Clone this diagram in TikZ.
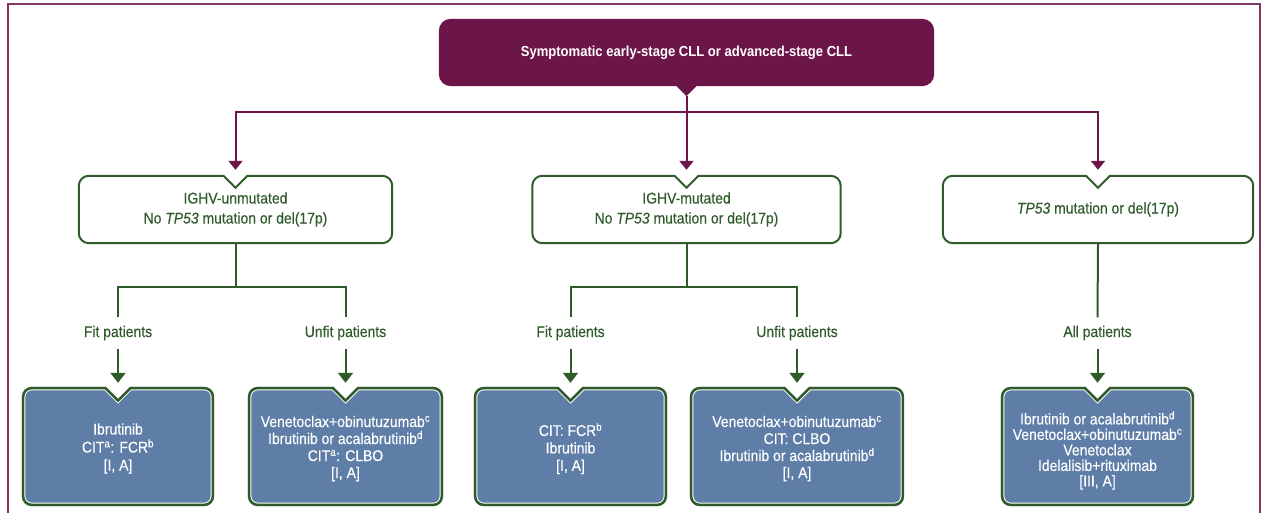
\documentclass[tikz,border=0pt]{standalone}
\usepackage{fontspec}
\setmainfont{Liberation Sans}[FakeStretch=0.9, UprightFeatures={FakeBold=0.3}, ItalicFeatures={FakeBold=0.3}]
\usetikzlibrary{calc,arrows.meta}
\definecolor{cllpurple}{HTML}{6C1548}
\definecolor{dkgreen}{HTML}{2F5B2B}
\definecolor{boxblue}{HTML}{5E7EA8}
\tikzset{
  mtext/.style={inner sep=0pt, align=center, text=dkgreen, font=\fontsize{15.5}{20}\selectfont},
  mbox/.style={mtext, minimum height=67pt},
  bbox/.style={inner sep=0pt, align=center, text=white, minimum height=119pt},
  lab/.style={mtext, minimum height=31pt, minimum width=10pt},
  pline/.style={draw=cllpurple, line width=2pt},
  parrow/.style={pline, -{Triangle[width=14pt,length=9pt]}, shorten >=3pt},
  gline/.style={draw=dkgreen, line width=2pt},
  garrow/.style={gline, -{Triangle[width=15pt,length=10pt]}, shorten >=4pt},
  notched/.style={insert path={
    ($(#1.north west)+(10pt,0pt)$) -- ($(#1.north)+(-12pt,0pt)$) -- ($(#1.north)+(0pt,-12pt)$) -- ($(#1.north)+(12pt,0pt)$)
    -- ($(#1.north east)+(-10pt,0pt)$) arc[start angle=90,end angle=0,radius=10pt]
    -- ($(#1.south east)+(0pt,10pt)$) arc[start angle=0,end angle=-90,radius=10pt]
    -- ($(#1.south west)+(10pt,0pt)$) arc[start angle=270,end angle=180,radius=10pt]
    -- ($(#1.north west)+(0pt,-10pt)$) arc[start angle=180,end angle=90,radius=10pt] -- cycle}},
  topshape/.style={insert path={
    ($(#1.south west)+(0pt,12pt)$) arc[start angle=180,end angle=270,radius=12pt]
    -- ($(#1.south)+(-10pt,0pt)$) -- ($(#1.south)+(0pt,-10pt)$) -- ($(#1.south)+(10pt,0pt)$)
    -- ($(#1.south east)+(-12pt,0pt)$) arc[start angle=270,end angle=360,radius=12pt]
    -- ($(#1.north east)+(0pt,-12pt)$) arc[start angle=0,end angle=90,radius=12pt]
    -- ($(#1.north west)+(12pt,0pt)$) arc[start angle=90,end angle=180,radius=12pt] -- cycle}}
}
\newcommand{\bluebox}[1]{%
  \begin{scope}
    \clip[notched=#1];
    \fill[boxblue][notched=#1];
    \draw[white, line width=7pt][notched=#1];
    \draw[dkgreen, line width=5pt][notched=#1];
  \end{scope}}
\newcommand{\atext}{Ibrutinib\\CIT\textsuperscript{a}: FCR\textsuperscript{b}\\{[I, A]}}
\newcommand{\btext}{Venetoclax+obinutuzumab\textsuperscript{c}\\Ibrutinib or acalabrutinib\textsuperscript{d}\\CIT\textsuperscript{a}: CLBO\\{[I, A]}}
\newcommand{\ctext}{CIT: FCR\textsuperscript{b}\\Ibrutinib\\{[I, A]}}
\newcommand{\dtext}{Venetoclax+obinutuzumab\textsuperscript{c}\\CIT: CLBO\\Ibrutinib or acalabrutinib\textsuperscript{d}\\{[I, A]}}
\newcommand{\etext}{Ibrutinib or acalabrutinib\textsuperscript{d}\\Venetoclax+obinutuzumab\textsuperscript{c}\\Venetoclax\\Idelalisib+rituximab\\{[III, A]}}
\begin{document}
\begin{tikzpicture}[x=1pt,y=1pt]
\useasboundingbox (0,0) rectangle (1268,513);
\fill[white] (0,0) rectangle (1268,513);
% frame
\draw[cllpurple!85, line width=2.5pt] (8,-20) -- (8,509) -- (1260,509) -- (1260,-20);

% top box
\coordinate (topc) at (686.5,460.5);
\path (topc) node[inner sep=0pt, minimum width=495pt, minimum height=67pt] (top) {};
\fill[cllpurple][topshape=top];
\node[inner sep=0pt, text=white, font=\bfseries\fontsize{14.5}{17}\selectfont] (toptext) at (top) {Symptomatic early-stage CLL or advanced-stage CLL};
\coordinate (tapex) at ($(top.south)+(0,-10)$);

% middle boxes
\node[mbox, minimum width=313pt] (m1) at (235.5,303.5) {IGHV-unmutated\\No \textit{TP53} mutation or del(17p)};
\node[mbox, minimum width=308pt] (m2) at (686.5,303.5) {IGHV-mutated\\No \textit{TP53} mutation or del(17p)};
\node[mbox, minimum width=310pt] (m3) at (1098,303.5) {\textit{TP53} mutation or del(17p)};
\foreach \n in {m1,m2,m3}{\draw[dkgreen, line width=2pt][notched=\n];}

% purple connectors
\coordinate (hj) at (686.5,401);
\draw[parrow] (tapex) -- ([yshift=3pt]m2.north);
\draw[parrow] (hj) -| ([yshift=3pt]m1.north);
\draw[parrow] (hj) -| ([yshift=3pt]m3.north);

% labels
\node[lab] (fit1) at (118,180) {Fit patients};
\node[lab] (unfit1) at (345.5,180) {Unfit patients};
\node[lab] (fit2) at (570.5,180) {Fit patients};
\node[lab] (unfit2) at (797,180) {Unfit patients};
\node[lab] (all) at (1097.5,180) {All patients};

% bottom boxes (frames)
\path (118,66.5) node[bbox, minimum width=192pt] (a1) {};
\path (345.5,66.5) node[bbox, minimum width=195pt] (a2) {};
\path (570.5,66.5) node[bbox, minimum width=193pt] (a3) {};
\path (797,66.5) node[bbox, minimum width=214pt] (a4) {};
\path (1097.5,66.5) node[bbox, minimum width=193pt] (a5) {};
\foreach \n in {a1,a2,a3,a4,a5}{\bluebox{\n}}
% bottom texts
\node[bbox, minimum height=0pt, font=\fontsize{15.5}{18}\selectfont] (t1) at ($(a1)+(0,-2)$) {\atext};
\node[bbox, minimum height=0pt, font=\fontsize{15.5}{17}\selectfont] (t2) at ($(a2)+(0,-2)$) {\btext};
\node[bbox, minimum height=0pt, font=\fontsize{15.5}{17.5}\selectfont] (t3) at ($(a3)+(0,-2)$) {\ctext};
\node[bbox, minimum height=0pt, font=\fontsize{15.5}{17}\selectfont] (t4) at ($(a4)+(0,-2)$) {\dtext};
\node[bbox, minimum height=0pt, font=\fontsize{15.5}{15.5}\selectfont] (t5) at ($(a5)+(0,-4)$) {\etext};

% green connectors
\coordinate (j1) at ($(m1.south)+(0,-44)$);
\coordinate (j2) at ($(m2.south)+(0,-44)$);
\draw[gline] (m1.south) -- (j1);
\draw[gline] (fit1.north) |- (j1) -| (unfit1.north);
\draw[gline] (m2.south) -- (j2);
\draw[gline] (fit2.north) |- (j2) -| (unfit2.north);
\draw[gline] (m3.south) -- (all.north);
\draw[garrow] (fit1.south) -- (a1.north);
\draw[garrow] (unfit1.south) -- (a2.north);
\draw[garrow] (fit2.south) -- (a3.north);
\draw[garrow] (unfit2.south) -- (a4.north);
\draw[garrow] (all.south) -- (a5.north);
\end{tikzpicture}
\end{document}
